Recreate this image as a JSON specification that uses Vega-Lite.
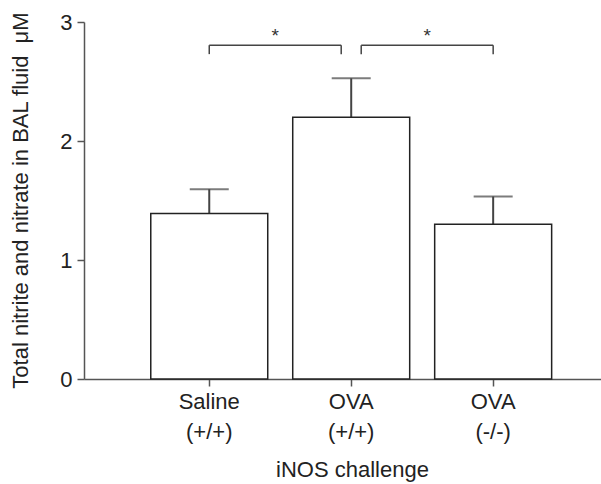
{
  "$schema": "https://vega.github.io/schema/vega-lite/v6.json",
  "autosize": "none",
  "width": 517,
  "height": 357,
  "padding": {"left": 84, "top": 22, "right": 0, "bottom": 105},
  "background": "white",
  "config": {
    "view": {"stroke": null},
    "font": "Liberation Sans, Arial, sans-serif",
    "axis": {"grid": false, "domainColor": "#555", "domainWidth": 1.5, "tickColor": "#555", "tickWidth": 1.5, "tickSize": 7, "labelColor": "#222", "titleColor": "#222", "labelFont": "Liberation Sans, Arial, sans-serif", "titleFont": "Liberation Sans, Arial, sans-serif", "titleFontWeight": "normal"}
  },
  "datasets": {
    "bars": [
      {"group": "Saline (+/+)", "mean": 1.39, "upper": 1.595},
      {"group": "OVA (+/+)", "mean": 2.2, "upper": 2.527},
      {"group": "OVA (-/-)", "mean": 1.3, "upper": 1.534}
    ]
  },
  "encoding": {
    "x": {
      "field": "group", "type": "nominal", "sort": null,
      "scale": {"domain": ["Saline (+/+)", "OVA (+/+)", "OVA (-/-)"], "paddingInner": 0.176, "paddingOuter": 0.409, "align": 0.575},
      "axis": {"title": "iNOS challenge", "labelAngle": 0, "labelFontSize": 22, "labelLineHeight": 30, "labelExpr": "split(datum.label, ' ')", "labelPadding": 5, "titleFontSize": 22, "titleX": 268, "titleY": 97, "titleBaseline": "alphabetic"}
    }
  },
  "layer": [
    {
      "data": {"name": "bars"},
      "mark": {"type": "rule", "color": "#444", "strokeWidth": 2},
      "encoding": {
        "y": {"field": "mean", "type": "quantitative"},
        "y2": {"field": "upper"}
      }
    },
    {
      "data": {"name": "bars"},
      "mark": {"type": "tick", "color": "#444", "size": 39, "thickness": 2},
      "encoding": {
        "y": {"field": "upper", "type": "quantitative"}
      }
    },
    {
      "data": {"name": "bars"},
      "mark": {"type": "bar", "fill": "white", "stroke": "#222", "strokeWidth": 1.5},
      "encoding": {
        "y": {
          "field": "mean", "type": "quantitative",
          "scale": {"domain": [0, 3], "nice": false},
          "axis": {"title": "Total nitrite and nitrate in BAL fluid\u00a0\u00a0μM", "values": [0, 1, 2, 3], "format": "d", "labelFontSize": 22, "labelPadding": 5, "titleFontSize": 22, "titleAngle": -90, "titleX": -57, "titleY": 178, "titleAlign": "center", "titleBaseline": "alphabetic"}
        }
      }
    },
    {
      "data": {"values": [{"from": "Saline (+/+)", "to": "OVA (+/+)", "y": 2.805}]},
      "mark": {"type": "rule", "color": "#444", "strokeWidth": 1.5, "x2Offset": -10},
      "encoding": {"x": {"field": "from", "type": "nominal"}, "x2": {"field": "to"}, "y": {"field": "y", "type": "quantitative"}}
    },
    {
      "data": {"values": [{"from": "OVA (+/+)", "to": "OVA (-/-)", "y": 2.805}]},
      "mark": {"type": "rule", "color": "#444", "strokeWidth": 1.5, "xOffset": 10},
      "encoding": {"x": {"field": "from", "type": "nominal"}, "x2": {"field": "to"}, "y": {"field": "y", "type": "quantitative"}}
    },
    {
      "data": {"values": [{"g": "Saline (+/+)", "y": 2.805, "y2": 2.73}, {"g": "OVA (-/-)", "y": 2.805, "y2": 2.73}]},
      "mark": {"type": "rule", "color": "#444", "strokeWidth": 1.5},
      "encoding": {"x": {"field": "g", "type": "nominal"}, "y": {"field": "y", "type": "quantitative"}, "y2": {"field": "y2"}}
    },
    {
      "data": {"values": [{"g": "OVA (+/+)", "y": 2.805, "y2": 2.73}]},
      "mark": {"type": "rule", "color": "#444", "strokeWidth": 1.5, "xOffset": -10},
      "encoding": {"x": {"field": "g", "type": "nominal"}, "y": {"field": "y", "type": "quantitative"}, "y2": {"field": "y2"}}
    },
    {
      "data": {"values": [{"g": "OVA (+/+)", "y": 2.805, "y2": 2.73}]},
      "mark": {"type": "rule", "color": "#444", "strokeWidth": 1.5, "xOffset": 10},
      "encoding": {"x": {"field": "g", "type": "nominal"}, "y": {"field": "y", "type": "quantitative"}, "y2": {"field": "y2"}}
    },
    {
      "data": {"values": [{"g": "OVA (+/+)", "y": 2.83, "label": "*"}]},
      "mark": {"type": "text", "color": "#333", "fontSize": 19, "baseline": "alphabetic", "xOffset": -76},
      "encoding": {"x": {"field": "g", "type": "nominal"}, "y": {"field": "y", "type": "quantitative"}, "text": {"field": "label"}}
    },
    {
      "data": {"values": [{"g": "OVA (+/+)", "y": 2.83, "label": "*"}]},
      "mark": {"type": "text", "color": "#333", "fontSize": 19, "baseline": "alphabetic", "xOffset": 76},
      "encoding": {"x": {"field": "g", "type": "nominal"}, "y": {"field": "y", "type": "quantitative"}, "text": {"field": "label"}}
    }
  ]
}
